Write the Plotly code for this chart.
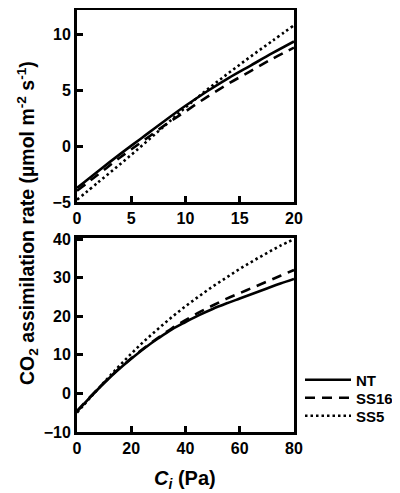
import plotly.graph_objects as go

# ---- data ----
ci_top = [0, 2, 4, 6, 8, 10, 12, 14, 16, 18, 20]
nt_top = [-3.75, -2.2, -0.7, 0.75, 2.2, 3.6, 4.9, 6.1, 7.2, 8.3, 9.35]
ss16_top = [-4.0, -2.5, -1.0, 0.4, 1.8, 3.1, 4.4, 5.6, 6.7, 7.8, 8.8]
ss5_top = [-4.8, -3.2, -1.6, 0.05, 1.75, 3.45, 5.05, 6.55, 8.0, 9.4, 10.8]

ci_bot = [0, 5, 10, 15, 20, 25, 30, 35, 40, 45, 50, 55, 60, 65, 70, 75, 80]
nt_bot = [-4.7, -0.9, 2.7, 6.0, 9.0, 11.8, 14.3, 16.6, 18.5, 20.3, 21.9, 23.3, 24.6, 25.9, 27.2, 28.5, 29.7]
ss16_bot = [-4.5, -0.8, 2.8, 6.1, 9.1, 11.9, 14.5, 16.9, 19.0, 21.0, 22.8, 24.5, 26.0, 27.5, 29.0, 30.5, 32.0]
ss5_bot = [-5.0, -1.0, 2.9, 6.7, 10.3, 13.7, 16.8, 19.8, 22.6, 25.2, 27.7, 30.0, 32.3, 34.4, 36.4, 38.3, 40.0]

series_names = ["NT", "SS16", "SS5"]
dashes = ["solid", "10px,7px", "2.5px,3px"]
legend_ids = ["legend", "legend2", "legend3"]

FONT = "Liberation Sans, Arial, sans-serif"
OFF = 8                      # page body margin offset
W, H = 400 - OFF, 493 - OFF  # figure fills the visible window


def fx(p):
    return (p - OFF) / W


def fy(p):
    return 1 - (p - OFF) / H


fig = go.Figure()
top_sets = [nt_top, ss16_top, ss5_top]
bot_sets = [nt_bot, ss16_bot, ss5_bot]
for name, dash, yt in zip(series_names, dashes, top_sets):
    fig.add_trace(go.Scatter(x=ci_top, y=yt, mode="lines", name=name, showlegend=False,
                             line=dict(color="black", width=2.6, dash=dash, shape="spline"),
                             xaxis="x", yaxis="y"))
for name, dash, yb, lg in zip(series_names, dashes, bot_sets, legend_ids):
    fig.add_trace(go.Scatter(x=ci_bot, y=yb, mode="lines", name=name, showlegend=True,
                             legend=lg,
                             line=dict(color="black", width=2.6, dash=dash, shape="spline"),
                             xaxis="x2", yaxis="y2"))

xdom = [fx(77), fx(294)]
ydom_top = [fy(202), 1 - 1.6 / H]
ydom_bot = [fy(432), fy(238)]

axis_common = dict(showline=True, linecolor="black", linewidth=3, mirror=True,
                   ticks="inside", ticklen=6, tickwidth=2.5, tickcolor="black",
                   showgrid=False, zeroline=False, automargin=False,
                   tickfont=dict(family=FONT, size=16, color="black", weight="bold"))

legend_font = dict(family=FONT, size=15, color="black", weight="bold")
leg_y = [380, 398, 416]
legends = {}
for lg, yy in zip(legend_ids, leg_y):
    legends[lg] = dict(x=fx(300), y=fy(yy), xanchor="left", yanchor="middle",
                       bgcolor="rgba(0,0,0,0)", font=legend_font, itemwidth=46,
                       borderwidth=0)

fig.update_layout(
    width=W, height=H,
    margin=dict(l=0, r=0, t=0, b=0),
    paper_bgcolor="white", plot_bgcolor="white",
    font=dict(family=FONT, color="black", weight="bold"),
    xaxis=dict(domain=xdom, range=[0, 20], tickvals=[0, 5, 10, 15, 20], anchor="y", **axis_common),
    yaxis=dict(domain=ydom_top, range=[-5, 12.2], tickvals=[-5, 0, 5, 10], anchor="x", **axis_common),
    xaxis2=dict(domain=xdom, range=[0, 80], tickvals=[0, 20, 40, 60, 80], anchor="y2", **axis_common),
    yaxis2=dict(domain=ydom_bot, range=[-10, 40.3], tickvals=[-10, 0, 10, 20, 30, 40], anchor="x2", **axis_common),
    showlegend=True,
    **legends,
)

fig.add_annotation(text="CO<sub>2</sub> assimilation rate (µmol m<sup>-2</sup> s<sup>-1</sup>)",
                   xref="paper", yref="paper", x=fx(27), y=fy(223), textangle=-90,
                   showarrow=False, xanchor="center", yanchor="middle",
                   font=dict(family=FONT, size=19.5, color="black", weight="bold"))
fig.add_annotation(text="<i>C</i><sub><i>i</i></sub> (Pa)",
                   xref="paper", yref="paper", x=fx(185), y=fy(479),
                   showarrow=False, xanchor="center", yanchor="middle",
                   font=dict(family=FONT, size=20, color="black", weight="bold"))

fig.write_html("out.html")
